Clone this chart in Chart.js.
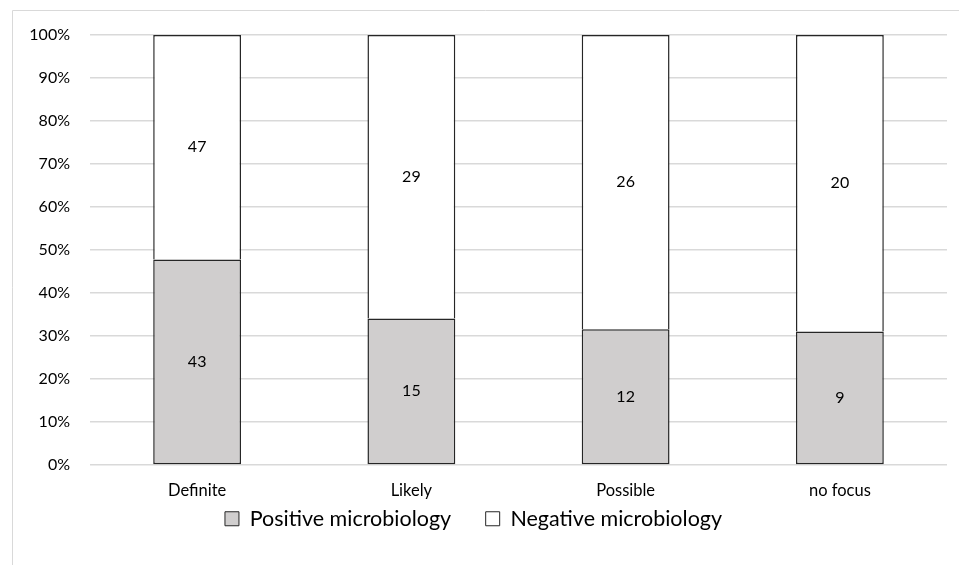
<!DOCTYPE html>
<html lang="en">
<head>
  <meta charset="UTF-8">
  <title>Microbiology by focus</title>
  <script src="https://cdn.jsdelivr.net/npm/chart.js"></script>
  <style>
    html, body { margin: 0; padding: 0; background: #fff; }
    #wrap { position: relative; width: 959px; height: 565px; }
  </style>
</head>
<body>
  <div id="wrap"><canvas id="grafico"></canvas></div>
<script>
  // categorias e contagens
  const categorias = ['Definite', 'Likely', 'Possible', 'no focus'];
  const series = ['Positive microbiology', 'Negative microbiology'];
  const positivos = [43, 15, 12, 9];
  const negativos = [47, 29, 26, 20];
  const rotulosEixoY = ['0%', '10%', '20%', '30%', '40%', '50%', '60%', '70%', '80%', '90%', '100%'];

  // 100% empilhado: cada barra vira porcentagem do total da categoria
  const pctPositivos = positivos.map((v, i) => v / (v + negativos[i]) * 100);
  const pctNegativos = negativos.map((v, i) => v / (v + positivos[i]) * 100);
  const contagens = [positivos, negativos];

  const fonte = 'Lato, "Open Sans", sans-serif';

  // moldura cinza do grafico (canto superior esquerdo)
  const moldura = {
    id: 'moldura',
    beforeDraw(chart) {
      const ctx = chart.ctx;
      ctx.save();
      ctx.strokeStyle = '#d9d9d9';
      ctx.lineWidth = 1;
      ctx.beginPath();
      ctx.moveTo(12.5, 565);
      ctx.lineTo(12.5, 10.5);
      ctx.lineTo(959, 10.5);
      ctx.stroke();
      ctx.restore();
    }
  };

  // rotulos com a contagem no meio de cada segmento
  const rotulos = {
    id: 'rotulos',
    afterDatasetsDraw(chart) {
      const ctx = chart.ctx;
      ctx.save();
      ctx.font = '16px ' + fonte;
      ctx.fillStyle = '#000';
      ctx.textAlign = 'center';
      ctx.textBaseline = 'middle';
      chart.data.datasets.forEach((ds, d) => {
        chart.getDatasetMeta(d).data.forEach((barra, i) => {
          const meio = (barra.y + barra.base) / 2;
          ctx.fillText(String(contagens[d][i]), barra.x, meio);
        });
      });
      ctx.restore();
    }
  };

  new Chart(document.getElementById('grafico').getContext('2d'), {
    type: 'bar',
    data: {
      labels: categorias,
      datasets: [{
        label: series[0],
        data: pctPositivos,
        backgroundColor: '#d0cece',
        borderColor: '#262626',
        borderWidth: 1.5,
        borderSkipped: false,
        categoryPercentage: 1,
        barPercentage: 0.41
      }, {
        label: series[1],
        data: pctNegativos,
        backgroundColor: '#ffffff',
        borderColor: '#262626',
        borderWidth: 1.5,
        borderSkipped: 'bottom',
        categoryPercentage: 1,
        barPercentage: 0.41
      }]
    },
    options: {
      responsive: true,
      maintainAspectRatio: false,
      animation: false,
      layout: { padding: { left: 0, top: 35, right: 12, bottom: 25.5 } },
      plugins: {
        tooltip: { enabled: false },
        legend: {
          position: 'bottom',
          labels: {
            font: { family: fonte, size: 21.5 },
            color: '#000',
            boxWidth: 14,
            boxHeight: 14,
            padding: 7,
            // espaco extra entre os dois itens da legenda
            generateLabels(chart) {
              const itens = Chart.defaults.plugins.legend.labels.generateLabels(chart);
              itens[0].text = itens[0].text + '     ';
              itens.forEach(it => { it.lineWidth = 1; it.strokeStyle = '#262626'; });
              return itens;
            }
          }
        }
      },
      scales: {
        x: {
          stacked: true,
          grid: { display: false },
          border: { display: false },
          ticks: { font: { family: fonte, size: 16.5 }, color: '#000', padding: 8 },
          afterFit(s) { s.height = 36; }
        },
        y: {
          stacked: true,
          min: 0,
          max: 100,
          grid: { color: '#d9d9d9', lineWidth: 1.5, drawTicks: false },
          border: { display: false },
          ticks: {
            stepSize: 10,
            padding: 20,
            font: { family: fonte, size: 16 },
            color: '#000',
            callback: (v) => rotulosEixoY[Math.round(v / 10)]
          },
          afterFit(s) { s.width = 90; }
        }
      }
    },
    plugins: [moldura, rotulos]
  });
</script>
</body>
</html>
